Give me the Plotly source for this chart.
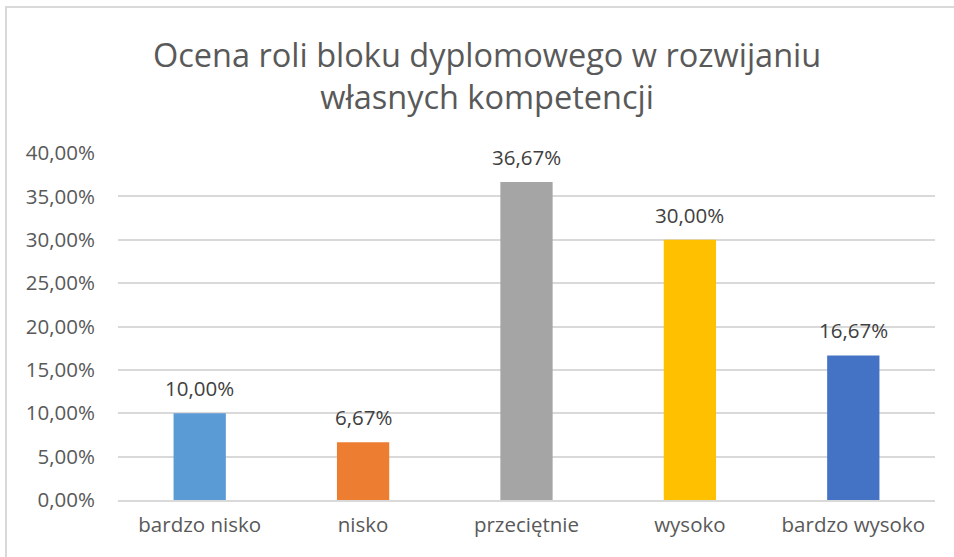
import plotly.graph_objects as go

categories = ["bardzo nisko", "nisko", "przeciętnie", "wysoko", "bardzo wysoko"]
values = [0.10, 0.0667, 0.3667, 0.30, 0.1667]
labels = ["10,00%", "6,67%", "36,67%", "30,00%", "16,67%"]
colors = ["#5B9BD5", "#ED7D31", "#A5A5A5", "#FFC000", "#4472C4"]
tick_vals = [0, 0.05, 0.10, 0.15, 0.20, 0.25, 0.30, 0.35, 0.40]
tick_text = ["0,00%", "5,00%", "10,00%", "15,00%", "20,00%", "25,00%", "30,00%", "35,00%", "40,00%"]

FONT = "Open Sans, Noto Sans, sans-serif"

fig = go.Figure(go.Bar(
    x=categories, y=values, marker_color=colors, marker_line_width=0,
    cliponaxis=False,
))

L, R, T, B = 118, 19, 153, 57
W, H = 954, 557
pw, ph = W - L - R, H - T - B

def px(x):
    return (x - L) / pw

def py(y):
    return (H - B - y) / ph

annotations = [dict(
    x=c, y=v, text=t, xref="x", yref="y", showarrow=False,
    yanchor="bottom", xanchor="center", yshift=9,
    font=dict(size=20.5, color="#404040", family=FONT),
) for c, v, t in zip(categories, values, labels)]

annotations.append(dict(
    text="Ocena roli bloku dyplomowego w rozwijaniu<br>własnych kompetencji",
    xref="paper", yref="paper", x=px(487), y=py(75), xanchor="center", yanchor="middle",
    showarrow=False, font=dict(size=32.5, color="#595959", family=FONT),
))

fig.update_layout(
    width=W, height=H,
    margin=dict(l=L, r=R, t=T, b=B),
    paper_bgcolor="white", plot_bgcolor="white",
    bargap=0.68,
    showlegend=False,
    font=dict(family=FONT, color="#595959", size=20.5),
    xaxis=dict(showline=True, linecolor="#D9D9D9", linewidth=1.5, ticks="",
               ticklabelstandoff=6,
               tickfont=dict(size=20.5, color="#595959"), showgrid=False),
    yaxis=dict(range=[0, 0.40], tickvals=tick_vals, ticktext=tick_text,
               showgrid=True, gridcolor="#D9D9D9", gridwidth=1.5, zeroline=False,
               ticks="", ticklabelstandoff=22,
               tickfont=dict(size=20.5, color="#595959")),
    annotations=annotations,
    shapes=[
        dict(type="line", xref="paper", yref="paper", x0=px(5), x1=px(954), y0=py(7), y1=py(7),
             line=dict(color="#D9D9D9", width=2)),
        dict(type="line", xref="paper", yref="paper", x0=px(6), x1=px(6), y0=py(7), y1=py(557),
             line=dict(color="#D9D9D9", width=2)),
    ],
)

fig.write_html("out.html", config={"displayModeBar": False},
               post_script="document.body.style.margin='0';document.body.style.overflow='hidden';")
